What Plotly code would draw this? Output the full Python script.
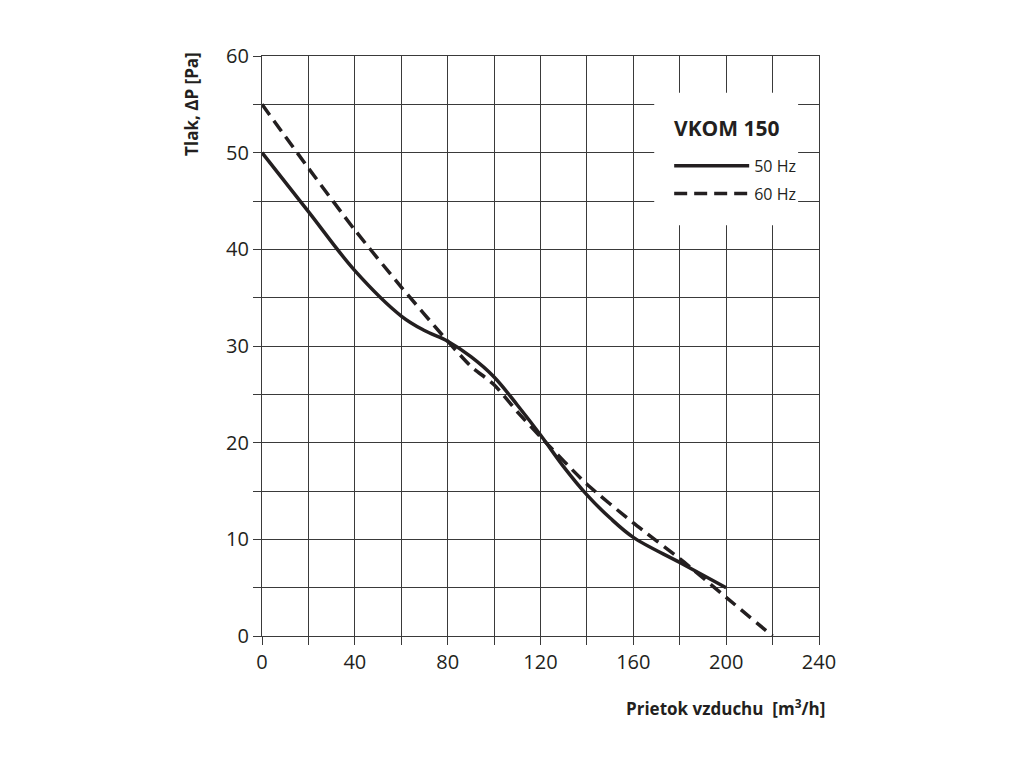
import plotly.graph_objects as go

# flow [m3/h] vs pressure [Pa]
flow_50 = [0, 20, 40, 60, 70, 80, 90, 100, 110, 120, 130, 140, 150, 160, 180, 200]
pres_50 = [50, 43.9, 37.8, 33.1, 31.6, 30.5, 28.9, 26.8, 23.9, 20.8, 17.5, 14.6, 12.2, 10.2, 7.6, 5.0]

flow_60 = [0, 20, 40, 60, 80, 90, 100, 110, 120, 140, 160, 180, 200, 220]
pres_60 = [55, 48.4, 42.0, 36.1, 30.5, 27.9, 26.0, 23.2, 20.6, 15.7, 11.7, 8.0, 4.0, 0]

x_ticks = [0, 40, 80, 120, 160, 200, 240]
y_ticks = [0, 10, 20, 30, 40, 50, 60]

ink = '#231f20'
grid = '#3a3a3a'
font = 'Open Sans'

fig = go.Figure()
fig.add_trace(go.Scatter(x=flow_50, y=pres_50, mode='lines', name='50 Hz', legendgroup='a',
                         line=dict(color=ink, width=3.5, shape='spline', smoothing=1.0)))
fig.add_trace(go.Scatter(x=flow_60, y=pres_60, mode='lines', name='60 Hz', legendgroup='b',
                         line=dict(color=ink, width=3.5, shape='spline', smoothing=0.6,
                                   dash='13px,7px')))

# white box behind the legend, hides the grid there
fig.add_shape(type='rect', xref='x', yref='y', x0=169, x1=231, y0=42.5, y1=56.2,
              fillcolor='white', line=dict(width=0), layer='between')

axis_common = dict(showline=True, mirror=True, linecolor=grid, linewidth=1.3,
                   showgrid=True, gridcolor=grid, gridwidth=1.3,
                   ticks='outside', ticklen=8, tickcolor=grid, tickwidth=1.3,
                   zeroline=False,
                   tickfont=dict(family=font, size=20, color=ink))

fig.update_xaxes(range=[0, 240], tickvals=x_ticks,
                 minor=dict(dtick=20, showgrid=True, gridcolor=grid, gridwidth=1.3,
                            ticks='outside', ticklen=8, tickcolor=grid, tickwidth=1.3),
                 **axis_common)
fig.update_yaxes(range=[0, 60], tickvals=y_ticks,
                 minor=dict(dtick=5, showgrid=True, gridcolor=grid, gridwidth=1.3,
                            ticks='outside', ticklen=8, tickcolor=grid, tickwidth=1.3),
                 **axis_common)

fig.add_annotation(text='<b>Tlak, ΔP [Pa]</b>', xref='paper', yref='paper',
                   x=-0.127, y=1.011, xanchor='center', yanchor='top', textangle=-90,
                   showarrow=False, font=dict(family=font, size=17, color=ink))
fig.add_annotation(text='<b>Prietok vzduchu  [m<sup>3</sup>/h]</b>', xref='paper', yref='paper',
                   x=1.014, y=-0.123, xanchor='right', yanchor='middle',
                   showarrow=False, font=dict(family=font, size=17, color=ink))
fig.add_annotation(text='<b>VKOM 150</b>', xref='paper', yref='paper',
                   x=0.835, y=0.876, xanchor='center', yanchor='middle',
                   showarrow=False, font=dict(family=font, size=21, color=ink))

fig.update_layout(
    width=1024, height=768,
    margin=dict(l=254, r=213, t=48, b=140),
    plot_bgcolor='white', paper_bgcolor='white',
    showlegend=True,
    legend=dict(x=0.968, y=0.84, xanchor='right', yanchor='top',
                bgcolor='rgba(0,0,0,0)', itemwidth=75,
                traceorder='grouped', tracegroupgap=4,
                font=dict(family=font, size=16, color=ink)),
)

fig.write_html('out.html')
